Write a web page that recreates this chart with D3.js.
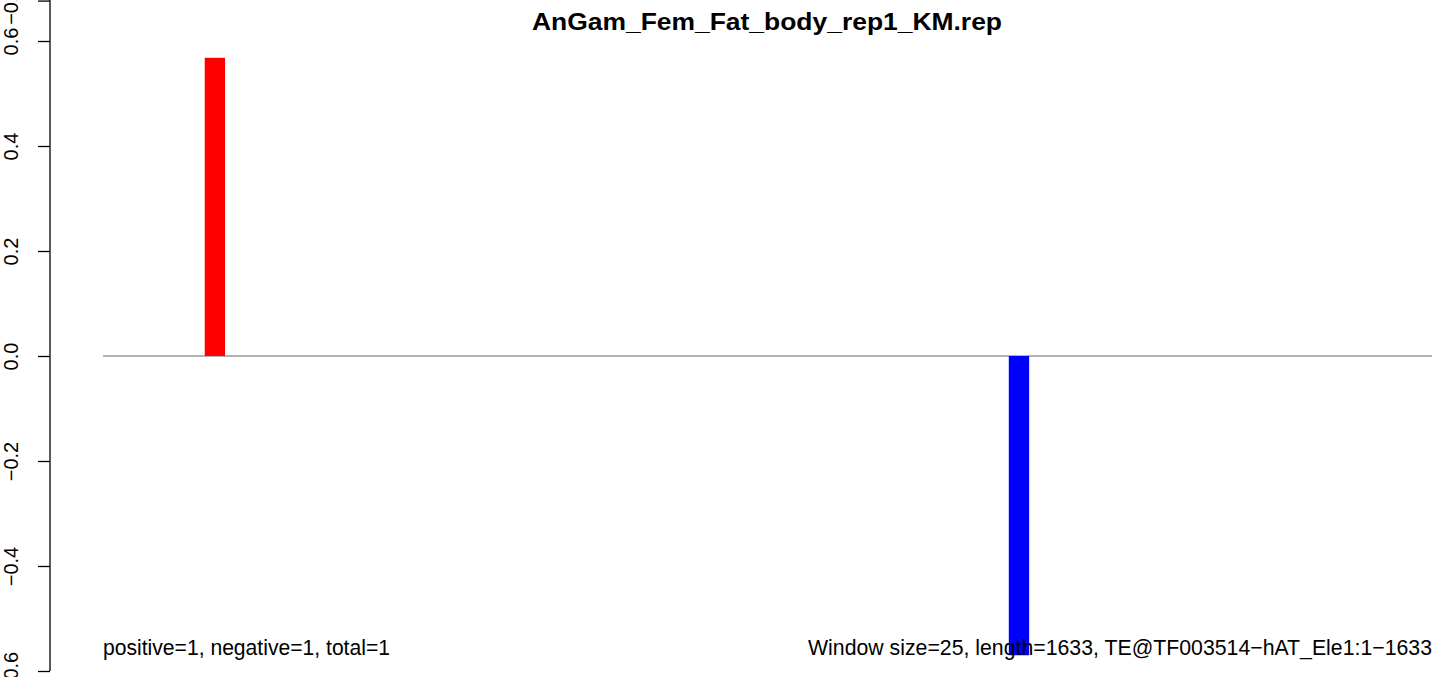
<!DOCTYPE html>
<html>
<head>
<meta charset="utf-8">
<script src="https://cdn.jsdelivr.net/npm/d3@7"></script>
<style>
  html, body { margin: 0; padding: 0; background: #fff; }
  svg { display: block; font-family: "Liberation Sans", Arial, sans-serif; }
</style>
</head>
<body>
<svg id="chart" width="1444" height="677"></svg>
<script>
// ---- data ----
const title = "AnGam_Fem_Fat_body_rep1_KM.rep";
const seqLength = 1633;
const windowSize = 25;
const windowStarts = [125, 1113];
const windowValues = [0.568, -0.57];
const yTickValues = [-0.6, -0.4, -0.2, 0.0, 0.2, 0.4, 0.6];
const yTickLabels = ["\u22120.6", "\u22120.4", "\u22120.2", "0.0", "0.2", "0.4", "0.6"];
// partially visible tick of an overlaid axis at the very top
const ghostTickValues = [0.677];
const ghostTickLabels = ["\u22120.6"];
const leftNote = "positive=1, negative=1, total=1";
const rightNote = "Window size=25, length=1633, TE@TF003514\u2212hAT_Ele1:1\u22121633";

// ---- layout ----
const svg = d3.select("#chart");
const x = d3.scaleLinear().domain([0, seqLength]).range([103, 1432]);
const y = d3.scaleLinear().domain([-0.6, 0.6]).range([671, 41]);
const axisX = 50;

// title
svg.append("text")
  .attr("x", 767).attr("y", 30)
  .attr("text-anchor", "middle")
  .attr("font-weight", "bold")
  .attr("font-size", 24)
  .attr("textLength", 470).attr("lengthAdjust", "spacingAndGlyphs")
  .text(title);

// zero line
svg.append("line")
  .attr("x1", x(0)).attr("x2", x(seqLength))
  .attr("y1", y(0)).attr("y2", y(0))
  .attr("stroke", "#999").attr("stroke-width", 1.3);

// bars
svg.selectAll("rect.bar")
  .data(windowStarts.map((s, i) => ({ s, v: windowValues[i] })))
  .enter().append("rect")
  .attr("class", "bar")
  .attr("x", d => x(d.s))
  .attr("width", d => x(d.s + windowSize) - x(d.s))
  .attr("y", d => Math.min(y(d.v), y(0)))
  .attr("height", d => Math.abs(y(d.v) - y(0)))
  .attr("fill", d => d.v >= 0 ? "#ff0000" : "#0000ff");

function styleTicks(g, shiftY) {
  g.select(".domain").remove();
  g.selectAll(".tick line").attr("stroke", "#000").attr("stroke-width", 1.3);
  g.selectAll(".tick text")
    .attr("font-size", 20)
    .attr("fill", "#000")
    .attr("text-anchor", "middle")
    .attr("dy", 0)
    .attr("x", 0).attr("y", 0)
    .attr("transform", `translate(-32,${shiftY}) rotate(-90)`);
}

// y axis
const yAxis = d3.axisLeft(y)
  .tickValues(yTickValues)
  .tickFormat((d, i) => yTickLabels[i])
  .tickSize(12)
  .tickPadding(0);
const gAxis = svg.append("g").attr("transform", `translate(${axisX},0)`).call(yAxis);
styleTicks(gAxis, 0);

// ghost ticks (overlaid axis peeking at the top)
const gGhost = svg.append("g").attr("transform", `translate(${axisX},0)`)
  .call(d3.axisLeft(y).tickValues(ghostTickValues).tickFormat((d, i) => ghostTickLabels[i]).tickSize(12).tickPadding(0));
styleTicks(gGhost, 4);

// axis spine
svg.append("line")
  .attr("x1", axisX).attr("x2", axisX)
  .attr("y1", 0).attr("y2", y(-0.6))
  .attr("stroke", "#000").attr("stroke-width", 1.3);

// bottom notes
svg.append("text")
  .attr("x", 103).attr("y", 655)
  .attr("font-size", 22)
  .attr("textLength", 287).attr("lengthAdjust", "spacingAndGlyphs")
  .text(leftNote);
svg.append("text")
  .attr("x", 808).attr("y", 655)
  .attr("font-size", 22)
  .attr("textLength", 624).attr("lengthAdjust", "spacingAndGlyphs")
  .text(rightNote);
</script>
</body>
</html>
